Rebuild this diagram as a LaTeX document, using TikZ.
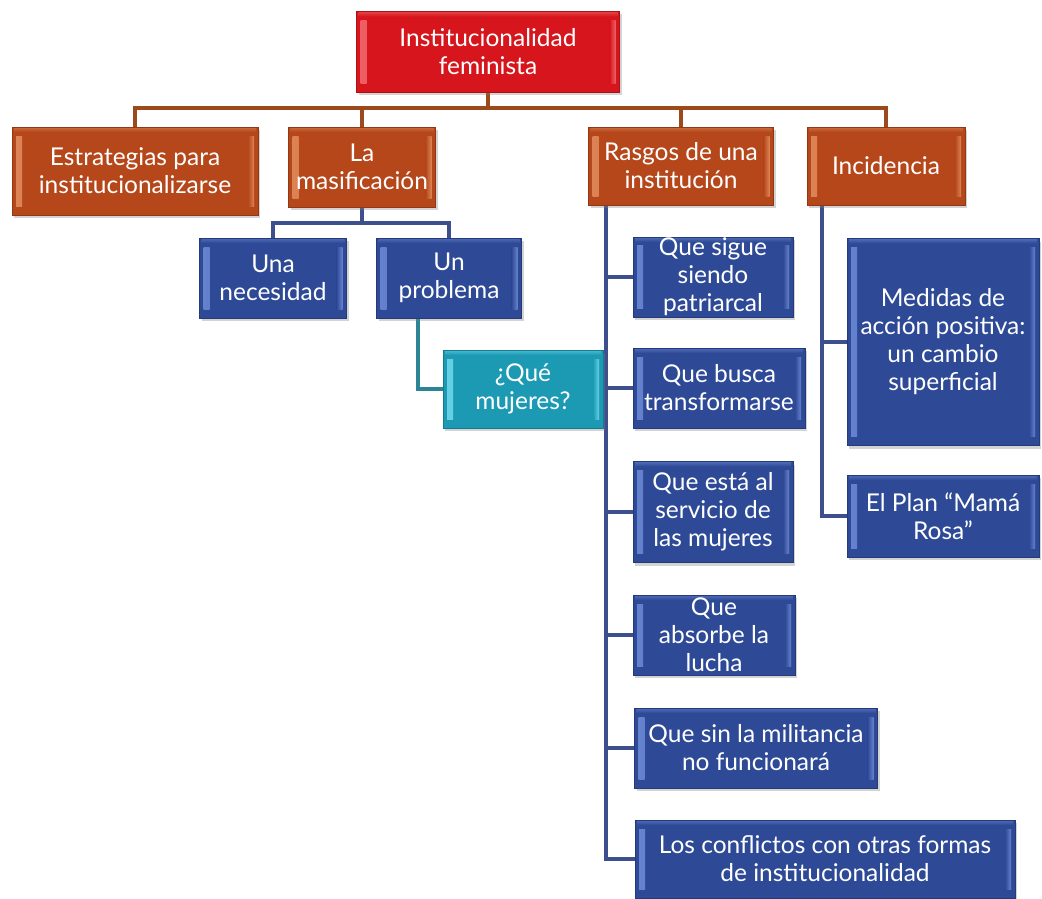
\documentclass[tikz,border=0pt]{standalone}
\usepackage{fontspec}
\setmainfont{Lato}
\usetikzlibrary{shadows,backgrounds,calc}
\definecolor{redbase}{HTML}{D7151D}
\definecolor{redhl}{HTML}{EE6064}
\definecolor{orgbase}{HTML}{B5471B}
\definecolor{orghl}{HTML}{DD8556}
\definecolor{bluebase}{HTML}{2E4A97}
\definecolor{bluehl}{HTML}{6683CF}
\definecolor{tealbase}{HTML}{1C9AB4}
\definecolor{tealhl}{HTML}{66D2E6}
\definecolor{brownline}{HTML}{9C4A1C}
\definecolor{blueline}{HTML}{3D4F8C}
\definecolor{tealline}{HTML}{2B8595}
\tikzset{
  box/.style 2 args={rectangle, fill=#1, draw=#1!80!black, line width=0.8pt,
    text=white, align=center, inner sep=1pt,
    font=\fontsize{24.5}{28}\selectfont,
    drop shadow={opacity=0.35, shadow xshift=2pt, shadow yshift=-3pt},
    path picture={
      \shade[left color=#2, right color=#1]
        ([xshift=4pt,yshift=-9pt]path picture bounding box.north west) rectangle
        ([xshift=10pt,yshift=9pt]path picture bounding box.south west);
      \shade[left color=#1, right color=#2]
        ([xshift=-10pt,yshift=-9pt]path picture bounding box.north east) rectangle
        ([xshift=-4pt,yshift=9pt]path picture bounding box.south east);
      \shade[top color=#2, bottom color=#1, opacity=0.5]
        ([xshift=2pt,yshift=-1pt]path picture bounding box.north west) rectangle
        ([xshift=-2pt,yshift=-5pt]path picture bounding box.north east);
    }},
  redbox/.style={box={redbase}{redhl}},
  orgbox/.style={box={orgbase}{orghl}},
  bluebox/.style={box={bluebase}{bluehl}},
  tealbox/.style={box={tealbase}{tealhl}},
  conn/.style={line width=4pt, draw=#1},
  sz/.style 2 args={minimum width=#1pt, minimum height=#2pt},
}
\begin{document}
\begin{tikzpicture}[x=1pt,y=-1pt]
\useasboundingbox (0,0) rectangle (1042,899);

\node[redbox, sz={263}{81}] (root) at (488,52) {Institucionalidad\\feminista};

\node[orgbox, sz={246}{88}] (est) at (135,171) {Estrategias para\\institucionalizarse};
\node[orgbox, sz={147}{80}] (mas) at (362,167) {La\\masificación};
\node[orgbox, sz={185}{78}] (ras) at (681,166) {Rasgos de una\\institución};
\node[orgbox, sz={158}{78}] (inc) at (886,166) {Incidencia};

\node[bluebox, sz={147}{80}] (una) at (273,278) {Una\\necesidad};
\node[bluebox, sz={145}{80}] (prob) at (449,278) {Un\\problema};
\node[tealbox, sz={160}{78}] (que) at (523,389) {¿Qué\\mujeres?};

\node[bluebox, sz={160}{80}] (c1) at (713,277) {Que sigue\\siendo\\patriarcal};
\node[bluebox, sz={172}{80}] (c2) at (719,388) {Que busca\\transformarse};
\node[bluebox, sz={160}{101}] (c3) at (713,512) {Que está al\\servicio de\\las mujeres};
\node[bluebox, sz={162}{80}] (c4) at (714,635) {Que\\absorbe la\\lucha};
\node[bluebox, sz={243}{80}] (c5) at (756,748) {Que sin la militancia\\no funcionará};
\node[bluebox, sz={380}{78}] (c6) at (825,859) {Los conflictos con otras formas\\de institucionalidad};

\node[bluebox, sz={192}{207}] (m1) at (943,342) {Medidas de\\acción positiva:\\un cambio\\superficial};
\node[bluebox, sz={192}{82}] (m2) at (943,516) {El Plan “Mamá\\Rosa”};

\coordinate (bar) at (0,108);
\coordinate (mbar) at (0,223);
\coordinate (rsp) at (606,0);
\coordinate (isp) at (822,0);
\coordinate (psp) at (418,0);

\begin{scope}[on background layer]
  \draw[conn=brownline] (root.south) -- (root.south |- bar) -| (est.north);
  \draw[conn=brownline] (root.south |- bar) -| (mas.north);
  \draw[conn=brownline] (root.south |- bar) -| (ras.north);
  \draw[conn=brownline] (root.south |- bar) -| (inc.north);

  \draw[conn=blueline] (mas.south) -- (mas.south |- mbar) -| (una.north);
  \draw[conn=blueline] (mas.south |- mbar) -| (prob.north);

  \draw[conn=tealline] (psp |- prob.south) |- (que.west);

  \draw[conn=blueline] (rsp |- ras.south) |- (c1.west);
  \draw[conn=blueline] (rsp |- ras.south) |- (c2.west);
  \draw[conn=blueline] (rsp |- ras.south) |- (c3.west);
  \draw[conn=blueline] (rsp |- ras.south) |- (c4.west);
  \draw[conn=blueline] (rsp |- ras.south) |- (c5.west);
  \draw[conn=blueline] (rsp |- ras.south) |- (c6.west);

  \draw[conn=blueline] (isp |- inc.south) |- (m1.west);
  \draw[conn=blueline] (isp |- inc.south) |- (m2.west);
\end{scope}
\end{tikzpicture}
\end{document}
